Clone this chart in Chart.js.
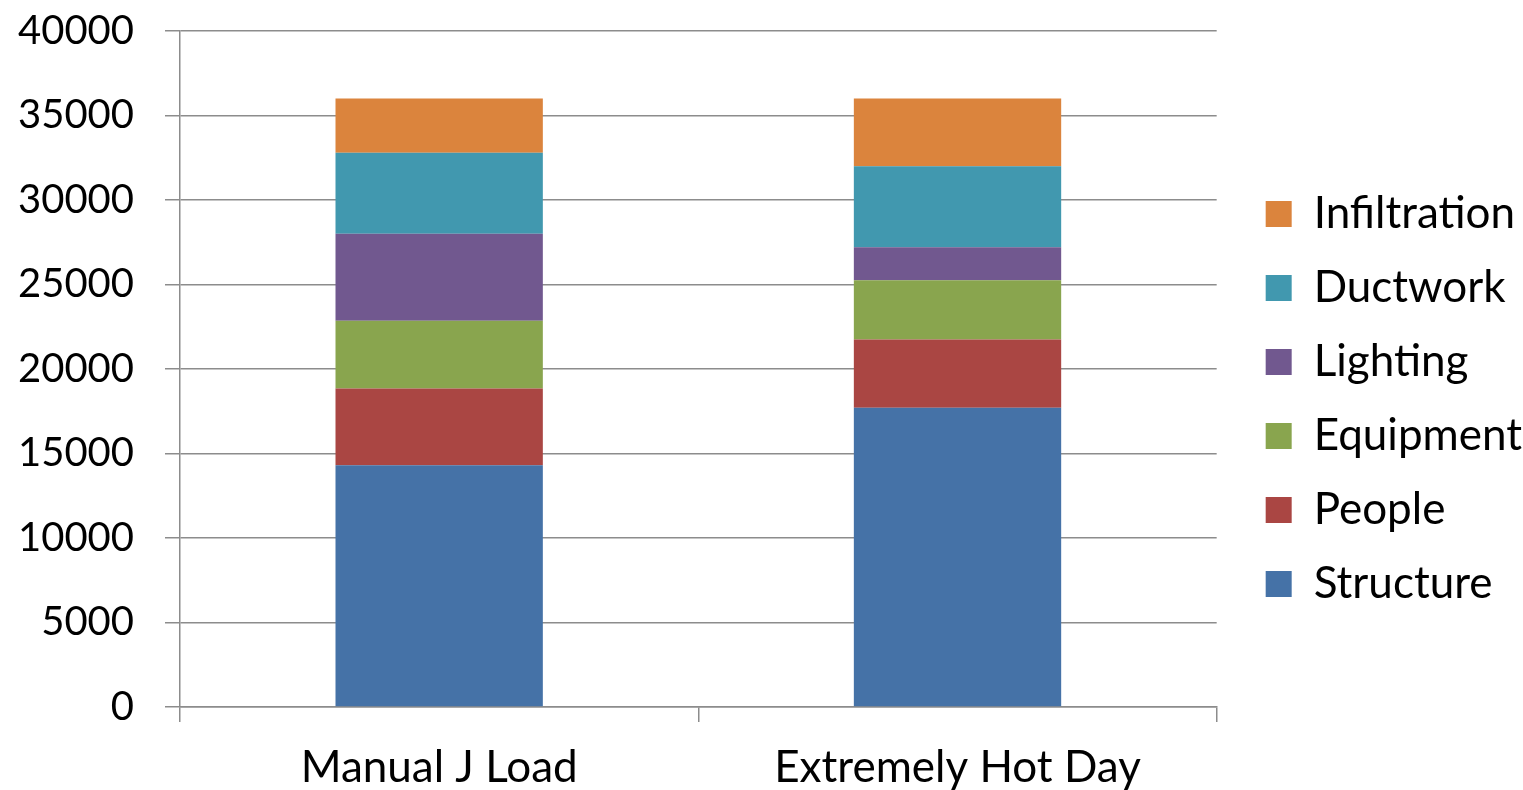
<!DOCTYPE html>
<html lang="en">
<head>
    <meta charset="UTF-8">
    <title>Cooling load by component</title>
    <script src="https://cdn.jsdelivr.net/npm/chart.js@4.4.1/dist/chart.umd.min.js"></script>
    <style>
        html, body { margin: 0; padding: 0; background: #fff; }
        #wrap { width: 1523px; height: 790px; }
    </style>
</head>
<body>
    <div id="wrap"><canvas id="chart"></canvas></div>

    <script>
        // categories and series
        const categories = ['Manual J Load', 'Extremely Hot Day'];
        const structure = [14300, 17700];
        const people = [4550, 4050];
        const equipment = [4000, 3500];
        const lighting = [5150, 1950];
        const ductwork = [4800, 4800];
        const infiltration = [3200, 4000];
        const yTicks = [0, 5000, 10000, 15000, 20000, 25000, 30000, 35000, 40000];

        const gridColor = '#8c8c8c';
        const fontFamily = 'Lato, "Open Sans", sans-serif';

        function serie(label, data, color) {
            return {
                label: label,
                data: data,
                backgroundColor: color,
                borderWidth: 0,
                categoryPercentage: 1,
                barPercentage: 0.4
            };
        }

        // leave a gap between plot area and legend (the legend padding also sets the row spacing)
        const legendGap = {
            id: 'legendGap',
            afterInit(chart) {
                const lg = chart.legend;
                const fit = lg.fit;
                const draw = lg.draw;
                lg.fit = function () { fit.call(this); this.width += 10; };
                lg.draw = function () {
                    const c = this.ctx;
                    c.save();
                    c.translate(19, 0);
                    draw.call(this);
                    c.restore();
                };
            }
        };

        const ctx = document.getElementById('chart').getContext('2d');
        const chart = new Chart(ctx, {
            type: 'bar',
            data: {
                labels: categories,
                datasets: [
                    serie('Structure', structure, '#4572A7'),
                    serie('People', people, '#AA4643'),
                    serie('Equipment', equipment, '#89A54E'),
                    serie('Lighting', lighting, '#71588F'),
                    serie('Ductwork', ductwork, '#4198AF'),
                    serie('Infiltration', infiltration, '#DB843D')
                ]
            },
            plugins: [legendGap],
            options: {
                responsive: true,
                maintainAspectRatio: false,
                animation: false,
                layout: {
                    padding: { top: 8, right: 0, bottom: 0, left: 0 }
                },
                plugins: {
                    tooltip: { enabled: false },
                    legend: {
                        position: 'right',
                        reverse: true,
                        labels: {
                            boxWidth: 26,
                            boxHeight: 26,
                            padding: 30,
                            color: '#000',
                            font: { family: fontFamily, size: 44 }
                        }
                    }
                },
                scales: {
                    x: {
                        stacked: true,
                        afterFit: function (scale) { scale.height = 83; },
                        grid: {
                            offset: true,
                            drawOnChartArea: false,
                            tickLength: 15,
                            color: gridColor,
                            lineWidth: 1.5
                        },
                        border: { display: true, color: gridColor, width: 1.5 },
                        ticks: {
                            color: '#000',
                            padding: 23,
                            font: { family: fontFamily, size: 44, lineHeight: 1.02 }
                        }
                    },
                    y: {
                        stacked: true,
                        min: 0,
                        max: 40000,
                        afterFit: function (scale) {
                            scale.width = 180;
                            scale.paddingTop = 31;
                            scale.paddingBottom = 0;
                        },
                        afterBuildTicks: function (scale) {
                            scale.ticks = yTicks.map(v => ({ value: v }));
                        },
                        grid: {
                            tickLength: 15,
                            color: gridColor,
                            lineWidth: 1.5
                        },
                        border: { display: true, color: gridColor, width: 1.5 },
                        ticks: {
                            color: '#000',
                            padding: 31,
                            font: { family: fontFamily, size: 40 },
                            callback: function (value) { return String(value); }
                        }
                    }
                }
            }
        });
    </script>
</body>
</html>
